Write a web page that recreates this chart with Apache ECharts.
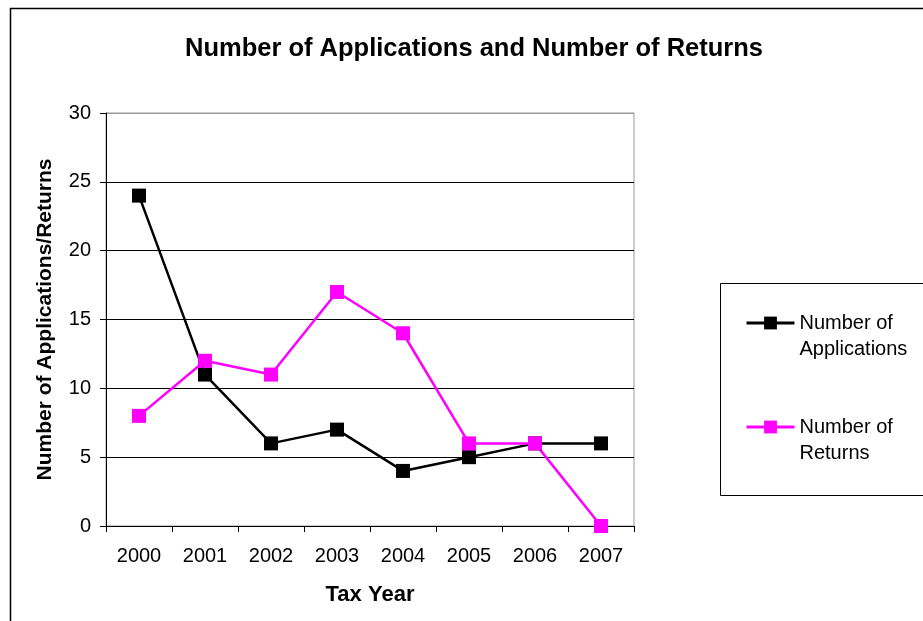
<!DOCTYPE html>
<html>
<head>
<meta charset="utf-8">
<script src="https://cdn.jsdelivr.net/npm/echarts@6/dist/echarts.min.js"></script>
<style>
  html, body { margin: 0; padding: 0; background: #fff; }
  #chart { width: 923px; height: 621px; }
</style>
</head>
<body>
<div id="chart"></div>
<script>
// tax years along the x axis
var years = ['2000', '2001', '2002', '2003', '2004', '2005', '2006', '2007'];
// values
var applications = [24, 11, 6, 7, 4, 5, 6, 6];
var returns = [8, 12, 11, 17, 14, 6, 6, 0];
var seriesNames = ['Number of Applications', 'Number of Returns'];

var font = '"Liberation Sans", Arial, sans-serif';
var chart = echarts.init(document.getElementById('chart'));

chart.setOption({
  backgroundColor: '#fff',
  animation: false,
  title: {
    text: 'Number of Applications and Number of Returns',
    left: 469, top: 31, textAlign: 'center',
    textStyle: { fontFamily: font, fontSize: 25.5, fontWeight: 'bold', color: '#000' }
  },
  graphic: [
    // outer chart frame
    { type: 'rect', shape: { x: 10.5, y: 8.5, width: 1000, height: 1000 },
      style: { fill: 'none', stroke: '#000', lineWidth: 1.5 }, z: -1 },
    // legend box
    { type: 'rect', shape: { x: 720.5, y: 283.5, width: 300, height: 212 },
      style: { fill: 'none', stroke: '#000', lineWidth: 1 }, z: -1 }
  ],
  legend: {
    orient: 'vertical',
    left: 740, top: 279,
    itemWidth: 48, itemHeight: 16,
    itemGap: 26,
    data: seriesNames,
    lineStyle: { width: 3 },
    // blank first line keeps the marker level with the first text line
    formatter: function (name) { return ' \n' + name.replace(' of ', ' of\n'); },
    textStyle: { fontFamily: font, fontSize: 20, color: '#000', lineHeight: 26 }
  },
  grid: {
    left: 106, top: 113, width: 528, height: 413,
    show: true, borderColor: '#999', borderWidth: 1
  },
  xAxis: {
    type: 'category',
    data: years,
    boundaryGap: true,
    name: 'Tax Year',
    nameLocation: 'middle',
    nameGap: 58,
    nameTextStyle: { fontFamily: font, fontSize: 22, fontWeight: 'bold', color: '#000' },
    axisLine: { lineStyle: { color: '#000', width: 1 } },
    axisTick: { show: true, length: 6, lineStyle: { color: '#000' } },
    axisLabel: { fontFamily: font, fontSize: 20, color: '#000', margin: 20 },
    splitLine: { show: false }
  },
  yAxis: {
    type: 'value',
    min: 0, max: 30, interval: 5,
    name: 'Number of Applications/Returns',
    nameLocation: 'middle',
    nameGap: 50,
    nameTextStyle: { fontFamily: font, fontSize: 21, fontWeight: 'bold', color: '#000' },
    axisLine: { show: true, lineStyle: { color: '#000', width: 1 } },
    axisTick: { show: true, length: 6, lineStyle: { color: '#000' } },
    axisLabel: { fontFamily: font, fontSize: 20, color: '#000', margin: 15 },
    splitLine: {
      show: true,
      lineStyle: { color: ['#000', '#000', '#000', '#000', '#000', '#000', '#999'], width: 1 }
    }
  },
  series: [
    {
      name: seriesNames[0], type: 'line', data: applications,
      symbol: 'rect', symbolSize: 14,
      lineStyle: { color: '#000', width: 2.5 },
      itemStyle: { color: '#000' }
    },
    {
      name: seriesNames[1], type: 'line', data: returns,
      symbol: 'rect', symbolSize: 14,
      lineStyle: { color: '#ff00ff', width: 2.5 },
      itemStyle: { color: '#ff00ff' }
    }
  ]
});
</script>
</body>
</html>
